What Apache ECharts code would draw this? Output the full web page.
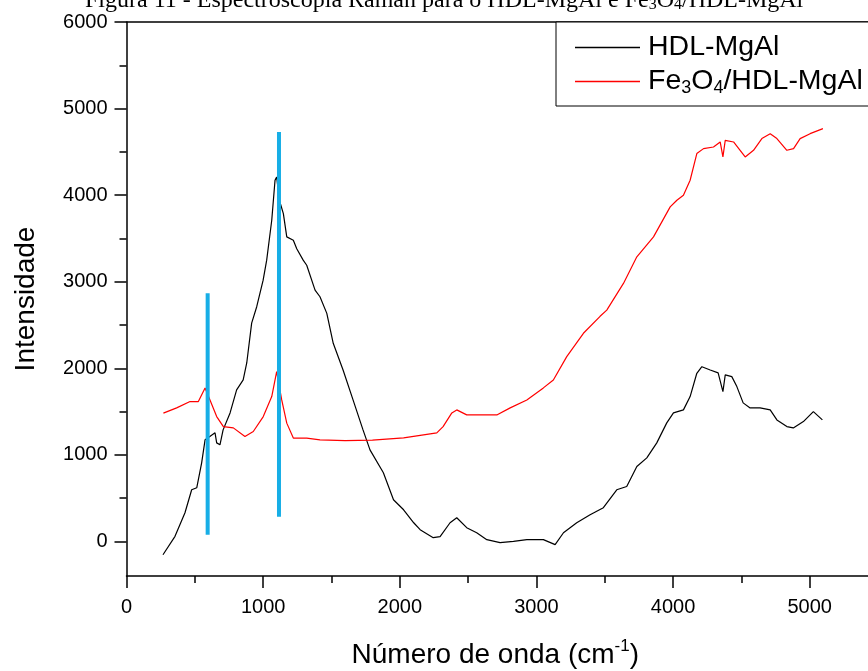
<!DOCTYPE html>
<html>
<head>
<meta charset="utf-8">
<script src="https://cdn.jsdelivr.net/npm/echarts@6/dist/echarts.min.js"></script>
<style>html,body{margin:0;padding:0;background:#fff;}#c{width:868px;height:671px;}</style>
</head>
<body>
<div id="c"></div>
<script>
// HDL-MgAl (black)
const hdlX = [267,355,428,477,514,550,575,597,648,660,684,707,758,806,854,880,916,953,1000,1026,1063,1087,1099,1119,1148,1173,1221,1246,1293,1319,1380,1416,1466,1513,1585,1658,1731,1782,1880,1954,2028,2102,2149,2245,2295,2368,2417,2490,2563,2637,2734,2832,2930,3051,3137,3198,3295,3393,3490,3588,3661,3735,3808,3881,3954,4003,4076,4125,4174,4211,4272,4330,4365,4382,4430,4467,4513,4564,4637,4711,4760,4833,4880,4954,5027,5093];
const hdlY = [-154,58,331,596,619,907,1173,1196,1254,1138,1115,1288,1484,1750,1865,2061,2522,2711,3018,3249,3710,4172,4210,3941,3787,3518,3479,3380,3249,3190,2903,2826,2634,2288,1980,1634,1288,1057,792,481,365,215,135,43,54,215,273,158,100,20,-15,0,20,20,-38,100,215,308,389,596,634,865,965,1138,1369,1484,1519,1673,1942,2018,1980,1946,1730,1923,1903,1788,1600,1542,1542,1519,1403,1326,1311,1384,1499,1404];
// Fe3O4/HDL-MgAl (red)
const feX = [270,367,465,526,575,611,660,709,782,867,928,1001,1063,1099,1136,1173,1221,1319,1416,1600,1800,2028,2271,2317,2381,2417,2490,2612,2710,2808,2930,3051,3124,3222,3344,3466,3515,3637,3735,3857,3979,4028,4076,4125,4174,4223,4296,4345,4365,4382,4443,4491,4528,4589,4650,4711,4760,4833,4882,4930,5003,5097];
const feY = [1481,1542,1615,1615,1773,1634,1442,1326,1311,1211,1269,1442,1673,1961,1634,1366,1193,1193,1173,1165,1170,1196,1254,1326,1484,1519,1461,1461,1461,1542,1634,1773,1865,2134,2404,2600,2672,2980,3287,3518,3864,3941,3999,4172,4480,4537,4556,4614,4441,4633,4614,4518,4441,4518,4653,4710,4653,4518,4537,4653,4710,4768];
// annotation lines (x, y-bottom, y-top)
const markNames = ['550', '1100'];
const markX = [594, 1116];
const markYBottom = [77, 285];
const markYTop = [2866, 4729];
// tick labels
const yMajor = [0,1000,2000,3000,4000,5000,6000];
const yMinor = [500,1500,2500,3500,4500,5500];

const zip = (xs, ys) => xs.map((x, i) => [x, ys[i]]);
const sans = 'Liberation Sans, Arial, sans-serif';
const serif = 'Liberation Serif, Times New Roman, serif';
const plain = v => String(v);

const markSeries = markNames.map((nm, i) => ({
  name: 'mark' + nm,
  type: 'line',
  symbol: 'none',
  silent: true,
  z: 5,
  lineStyle: { color: '#17AEE6', width: 4 },
  data: [
    [markX[i], markYBottom[i]],
    { value: [markX[i], markYTop[i]],
      label: { show: true, position: 'top', distance: i === 0 ? 6 : 12, formatter: nm,
               color: '#2F7DC0', fontFamily: serif, fontSize: 26, offset: [i === 0 ? -4 : 0, 0] } }
  ]
}));

const chart = echarts.init(document.getElementById('c'), null, { renderer: 'canvas' });
chart.setOption({
  backgroundColor: '#fff',
  animation: false,
  title: {
    text: 'Figura 11 - Espectroscopia Raman para o HDL-MgAl e Fe{s|3}O{s|4}/HDL-MgAl',
    left: 80, top: -16,
    textStyle: { fontFamily: serif, fontSize: 24, fontWeight: 'normal', color: '#000',
                 rich: { s: { fontFamily: serif, fontSize: 16, verticalAlign: 'bottom' } } }
  },
  grid: { left: 126.5, top: 22, right: -10, bottom: 95, containLabel: false, outerBoundsMode: 'none' },
  legend: {
    data: [{ name: 'HDL-MgAl', icon: 'rect' }, { name: 'Fe3O4/HDL-MgAl', icon: 'rect' }],
    orient: 'vertical',
    left: 556, top: 22,
    padding: [10, 30, 9, 19],
    itemGap: 3,
    itemWidth: 65, itemHeight: 1.3,
    borderColor: '#000', borderWidth: 1,
    backgroundColor: '#fff',
    formatter: n => n === 'Fe3O4/HDL-MgAl' ? 'Fe{sub|3}O{sub|4}/HDL-MgAl' : n,
    textStyle: { fontFamily: sans, fontSize: 28.5, color: '#000', lineHeight: 31, padding: [0,0,0,3],
                 rich: { sub: { fontFamily: sans, fontSize: 18, lineHeight: 16, verticalAlign: 'bottom', color: '#000' } } }
  },
  xAxis: [{
    type: 'value', position: 'bottom', min: 0, max: 5500, interval: 1000,
    axisLine: { onZero: false, lineStyle: { color: '#000', width: 1.5 } },
    axisTick: { inside: false, length: 12, lineStyle: { color: '#000', width: 1.5 } },
    minorTick: { show: true, splitNumber: 2, length: 7, lineStyle: { color: '#000', width: 1.5 } },
    axisLabel: { fontFamily: sans, fontSize: 20, color: '#000', margin: 21, showMaxLabel: false, formatter: plain },
    splitLine: { show: false },
    name: 'Número de onda (cm{sup|-1})',
    nameLocation: 'middle', nameGap: 62,
    nameTextStyle: { fontFamily: sans, fontSize: 28, color: '#000', lineHeight: 34, padding: [0, 14, 0, 0],
                     rich: { sup: { fontFamily: sans, fontSize: 17, lineHeight: 17, verticalAlign: 'top', color: '#000' } } }
  }, {
    type: 'value', position: 'top', min: 0, max: 5500,
    axisLine: { show: true, onZero: false, lineStyle: { color: '#000', width: 1.5 } },
    axisTick: { show: false }, axisLabel: { show: false }, splitLine: { show: false }
  }],
  yAxis: [{
    type: 'value', position: 'left', min: -400, max: 6000,
    axisLine: { show: true, onZero: false, lineStyle: { color: '#000', width: 1.5 } },
    axisTick: { show: true, inside: false, length: 12, customValues: yMajor, lineStyle: { color: '#000', width: 1.5 } },
    axisLabel: { fontFamily: sans, fontSize: 20, color: '#000', margin: 19, customValues: yMajor, formatter: plain },
    splitLine: { show: false },
    name: 'Intensidade', nameLocation: 'middle', nameGap: 86,
    nameTextStyle: { fontFamily: sans, fontSize: 28, color: '#000' }
  }, {
    type: 'value', position: 'left', offset: 0, min: -400, max: 6000,
    axisLine: { show: false, onZero: false },
    axisTick: { show: true, inside: false, length: 7, customValues: yMinor, lineStyle: { color: '#000', width: 1.5 } },
    axisLabel: { show: false }, splitLine: { show: false }
  }],
  series: [{
    name: 'HDL-MgAl', type: 'line', symbol: 'none', z: 3,
    lineStyle: { color: '#000', width: 1.2 }, itemStyle: { color: '#000' },
    data: zip(hdlX, hdlY)
  }, {
    name: 'Fe3O4/HDL-MgAl', type: 'line', symbol: 'none', z: 3,
    lineStyle: { color: '#FF0000', width: 1.2 }, itemStyle: { color: '#FF0000' },
    data: zip(feX, feY)
  }].concat(markSeries)
});
</script>
</body>
</html>
